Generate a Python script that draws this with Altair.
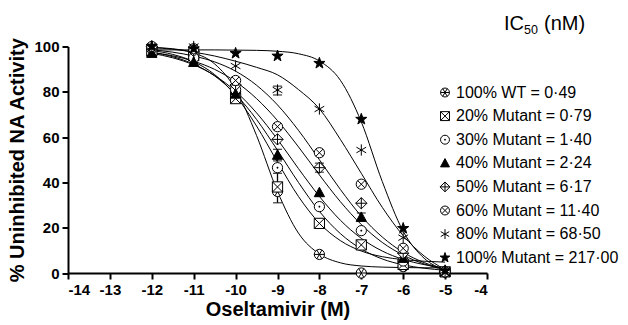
import altair as alt
import pandas as pd

# ---------------- data ----------------
series = [
    "100% WT = 0\u00b749",
    "20% Mutant = 0\u00b779",
    "30% Mutant = 1\u00b740",
    "40% Mutant = 2\u00b724",
    "50% Mutant = 6\u00b717",
    "60% Mutant = 11\u00b740",
    "80% Mutant = 68\u00b750",
    "100% Mutant = 217\u00b700",
]

# measured points (log10 M vs % activity)
x_pts = [-12, -11, -10, -9, -8, -7, -6, -5]
pts_wt = [99, 97, 80, 36, 8.2, 0, 2.8, 0.5]
pts_20 = [98, 96, 77, 38, 21.9, 12.4, 3.8, 0.5]
pts_30 = [99, 95, 81, 46.5, 29.3, 18.7, 5.3, 0.5]
pts_40 = [97, 93, 79, 52, 35.5, 24.6, 6.5, 0.5]
pts_50 = [100, 98, 83, 59, 46.5, 30.8, 8.7, 0.5]
pts_60 = [100, 99, 85, 64.6, 53.1, 39.2, 10.9, 0.5]
pts_80 = [100, 100, 91.4, 80.8, 72.4, 54.3, 15.6, 1]
pts_100 = [100, 99, 97, 95.8, 92.6, 67.9, 19.7, 1]
pts_all = [pts_wt, pts_20, pts_30, pts_40, pts_50, pts_60, pts_80, pts_100]

# fitted curves
x_curve = [-12, -11.5, -11, -10.5, -10, -9.5, -9, -8.5, -8, -7.5, -7, -6.5, -6, -5.5, -5]
curve_wt = [99.6, 99.0, 97.2, 92.3, 81.1, 60.7, 36.0, 17.6, 8.4, 4.5, 3.1, 2.6, 2.4, 2.3, 2.3]
curve_20 = [98.2, 96.5, 93.3, 87.6, 78.3, 64.9, 49.0, 33.8, 22.0, 14.3, 9.7, 7.2, 5.9, 5.2, 4.8]
curve_30 = [97.4, 95.5, 92.2, 87.0, 78.9, 67.8, 54.2, 40.0, 27.2, 17.4, 10.6, 6.2, 3.6, 2.1, 1.2]
curve_40 = [97.0, 95.0, 91.9, 87.2, 80.2, 70.7, 59.0, 46.1, 33.8, 23.3, 15.3, 9.7, 6.0, 3.7, 2.2]
curve_50 = [97.4, 95.9, 93.5, 89.9, 84.5, 77.0, 67.3, 55.7, 43.3, 31.5, 21.4, 13.5, 7.9, 4.0, 1.4]
curve_60 = [98.5, 97.5, 95.8, 93.2, 89.1, 82.9, 74.2, 63.0, 50.0, 36.9, 25.1, 15.9, 9.1, 4.6, 1.7]
curve_80 = [99.5, 98.8, 97.5, 95.8, 93.5, 90.8, 87.5, 81.0, 72.5, 59.0, 44.0, 29.0, 16.5, 7.5, 1.5]
curve_100 = [98.5, 98.5, 98.5, 98.5, 98.4, 98.3, 97.9, 96.8, 93.6, 85.1, 66.7, 40.4, 18.4, 6.5, 1.3]
curves_all = [curve_wt, curve_20, curve_30, curve_40, curve_50, curve_60, curve_80, curve_100]

# error bars
err_series = [series[1], series[3], series[6], series[4], series[3]]
err_x = [-9, -9, -9, -8, -7]
err_lo = [31, 49.5, 78.6, 44.5, 23]
err_hi = [44, 54.6, 82.5, 48.5, 26.5]

# ---------------- marker styles ----------------
CIRCLE = "M-1,0A1,1 0 1,1 1,0A1,1 0 1,1 -1,0Z"
shape_paths = [
    CIRCLE + "M-1,0L1,0M-0.5,-0.866L0.5,0.866M-0.5,0.866L0.5,-0.866",      # circled asterisk
    "M-1,-1L1,-1L1,1L-1,1ZM-1,-1L1,1M-1,1L1,-1",                            # boxed X
    CIRCLE + "M-0.18,0L0.18,0M0,-0.18L0,0.18",                              # circled dot
    "M0,-1.05L1,0.8L-1,0.8Z",                                               # triangle
    "M0,-1.1L1.1,0L0,1.1L-1.1,0ZM0,-1.1L0,1.1M-1.1,0L1.1,0",                # diamond plus
    CIRCLE + "M-0.707,-0.707L0.707,0.707M-0.707,0.707L0.707,-0.707",        # circled X
    "M0,-1.1L0,1.1M-0.95,-0.55L0.95,0.55M-0.95,0.55L0.95,-0.55",            # asterisk
    "M0,-1.15L0.26,-0.37L1.09,-0.36L0.43,0.14L0.68,0.93L0,0.46L-0.68,0.93L-0.43,0.14L-1.09,-0.36L-0.26,-0.37Z",  # star
]
fills = ["white", "white", "white", "black", "white", "white", "white", "black"]
strokes = ["black"] * len(series)

# ---------------- tables ----------------
pts_df = pd.DataFrame(
    [{"series": s, "order": i, "x": x, "y": y}
     for i, (s, ys) in enumerate(zip(series, pts_all)) for x, y in zip(x_pts, ys)]
)
curve_df = pd.DataFrame(
    [{"series": s, "x": x, "y": y}
     for s, ys in zip(series, curves_all) for x, y in zip(x_curve, ys)]
)
err_df = pd.DataFrame({"series": err_series, "x": err_x, "lo": err_lo, "hi": err_hi})
cap_df = pd.DataFrame({"x": err_x + err_x, "y": err_lo + err_hi})

FONT = "Liberation Sans"

xscale = alt.Scale(domain=[-14, -4], nice=False, zero=False)
yscale = alt.Scale(domain=[0, 100], nice=False)
xaxis = alt.Axis(values=list(range(-14, -3)), labelExpr="'' + datum.value",
                 title="Oseltamivir (M)", titlePadding=2,
                 labelFontWeight="bold", labelFontSize=15)
yaxis = alt.Axis(values=list(range(0, 101, 20)), title="% Uninhibited NA Activity",
                 titlePadding=6, labelFontWeight="bold", labelFontSize=15)

X = alt.X("x:Q", scale=xscale, axis=xaxis)
Y = alt.Y("y:Q", scale=yscale, axis=yaxis)

legend = alt.Legend(orient="none", legendX=369, legendY=38, title=None,
                    labelFont=FONT, labelFontSize=16, labelColor="black", labelLimit=400,
                    symbolSize=80, symbolStrokeWidth=1,
                    rowPadding=7.6, labelOffset=3, padding=0)

lines = alt.Chart(curve_df).mark_line(
    interpolate="monotone", color="black", strokeWidth=1
).encode(x=X, y=Y, detail="series:N")

bars = alt.Chart(err_df).mark_rule(color="black", strokeWidth=1.3).encode(
    x=X, y=alt.Y("lo:Q", scale=yscale, axis=yaxis), y2="hi:Q"
)
caps = alt.Chart(cap_df).mark_tick(
    orient="horizontal", size=9, thickness=1.3, color="black"
).encode(x=X, y=Y)

points = alt.Chart(pts_df).mark_point(
    filled=True, strokeWidth=1, size=105, opacity=1
).encode(
    x=X, y=Y,
    shape=alt.Shape("series:N", scale=alt.Scale(domain=series, range=shape_paths),
                    sort=series, legend=legend),
    fill=alt.Fill("series:N", scale=alt.Scale(domain=series, range=fills),
                  sort=series, legend=legend),
    stroke=alt.Stroke("series:N", scale=alt.Scale(domain=series, range=strokes),
                      sort=series, legend=legend),
    order=alt.Order("order:Q"),
)

one = pd.DataFrame({"k": [0]})
t_ic = alt.Chart(one).mark_text(font=FONT, fontSize=20, align="left", baseline="alphabetic",
                                color="black").encode(
    x=alt.value(436), y=alt.value(-17), text=alt.value("IC"))
t_50 = alt.Chart(one).mark_text(font=FONT, fontSize=12.5, align="left", baseline="alphabetic",
                                color="black").encode(
    x=alt.value(456), y=alt.value(-12.5), text=alt.value("50"))
t_nm = alt.Chart(one).mark_text(font=FONT, fontSize=20, align="left", baseline="alphabetic",
                                color="black").encode(
    x=alt.value(476), y=alt.value(-17), text=alt.value("(nM)"))

chart = alt.layer(lines, bars, caps, points, t_ic, t_50, t_nm).properties(
    width=419, height=226.5,
    autosize=alt.AutoSizeParams(type="none"),
    padding={"left": 68, "top": 46.5, "right": 141, "bottom": 52},
).configure_view(stroke="transparent").configure_axis(
    grid=False, domainColor="black", domainWidth=2, tickColor="black", tickWidth=2,
    tickSize=6, labelFont=FONT, labelFontSize=15, labelFontWeight="bold",
    labelColor="black", labelPadding=3, titleFont=FONT, titleFontSize=20,
    titleFontWeight="bold", titleColor="black",
)

chart.save("out.html", embed_options={"renderer": "svg", "actions": False})
